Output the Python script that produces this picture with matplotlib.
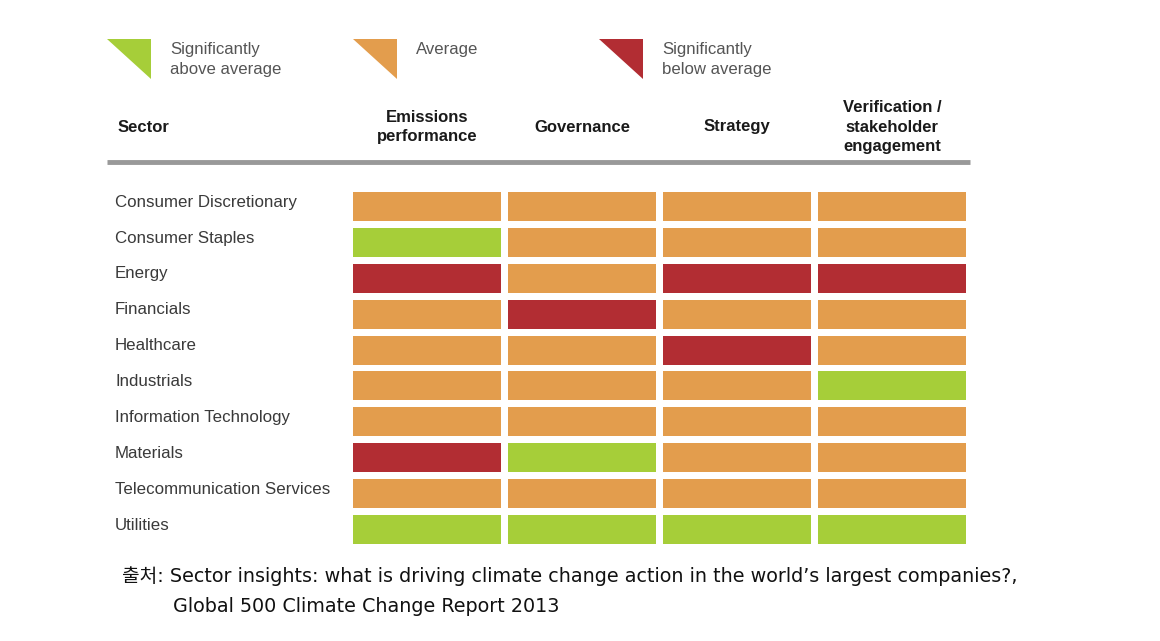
import numpy as np
import matplotlib.pyplot as plt
from matplotlib.patches import Polygon

# data
sectors = ['Consumer Discretionary', 'Consumer Staples', 'Energy', 'Financials',
           'Healthcare', 'Industrials', 'Information Technology', 'Materials',
           'Telecommunication Services', 'Utilities']
columns = ['Emissions\nperformance', 'Governance', 'Strategy',
           'Verification /\nstakeholder\nengagement']
# 1 = significantly above average, 0 = average, -1 = significantly below average
emissions    = [0, 1, -1, 0, 0, 0, 0, -1, 0, 1]
governance   = [0, 0, 0, -1, 0, 0, 0, 1, 0, 1]
strategy     = [0, 0, -1, 0, -1, 0, 0, 0, 0, 1]
verification = [0, 0, -1, 0, 0, 1, 0, 0, 0, 1]
legend_labels = ['Significantly\nabove average', 'Average', 'Significantly\nbelow average']
source_line1 = '출처: Sector insights: what is driving climate change action in the world\u2019s largest companies?,'
source_line2 = 'Global 500 Climate Change Report 2013'

colors = {1: '#a6ce39', 0: '#e39d4d', -1: '#b22d33'}
W, H = 1160, 641

fig = plt.figure(figsize=(W / 100, H / 100), dpi=100)
fig.patch.set_facecolor('white')

def fx(px):
    return px / W

def fy(py):
    return 1 - py / H

# grid of cells
cell_w = 148 / 155
cell_h = 29 / 35.9
ax = fig.add_axes([fx(353), fy(544), fx(966) - fx(353), fy(192) - fy(544)])
ax.set_xlim(0, 3 + cell_w)
ax.set_ylim(9 + cell_h, 0)
ax.axis('off')

rows = np.arange(len(sectors))
for i, vals in enumerate([emissions, governance, strategy, verification]):
    ax.barh(rows, cell_w, left=i, height=cell_h, align='edge',
            color=[colors[v] for v in vals], linewidth=0)

lab_x = (115 - 353) / 155
for j, s in enumerate(sectors):
    ax.text(lab_x, j + cell_h / 2 - 0.12, s, ha='left', va='center',
            fontsize=12.2, color='#3a3a3a', family='Liberation Sans')

# header
hdr_y = fy(127)
fig.text(fx(118), hdr_y, 'Sector', ha='left', va='center', fontsize=12,
         fontweight='bold', color='#1a1a1a', family='Liberation Sans')
for i, c in enumerate(columns):
    cx = fx(353 + 155 * i + 74)
    fig.text(cx, hdr_y, c, ha='center', va='center', fontsize=12,
             fontweight='bold', color='#1a1a1a', family='Liberation Sans',
             linespacing=1.4)

# decoration overlay in pixel coordinates
deco = fig.add_axes([0, 0, 1, 1], zorder=-1)
deco.set_xlim(0, W)
deco.set_ylim(H, 0)
deco.axis('off')
deco.plot([107, 970], [162, 162], color='#999999', lw=3.5, solid_capstyle='butt')

# legend triangles
for k, (lx, v) in enumerate(zip([107, 353, 599], [1, 0, -1])):
    tri = Polygon([[lx, 39], [lx + 44, 39], [lx + 44, 79]], closed=True,
                  facecolor=colors[v], edgecolor='none')
    deco.add_patch(tri)
    deco.text(lx + 63, 42, legend_labels[k], ha='left', va='top', fontsize=12.1,
              color='#555555', family='Liberation Sans', linespacing=1.4)

# source
fig.text(fx(122), fy(576), source_line1, ha='left', va='center', fontsize=13.8,
         color='#111111', family=['DejaVu Sans', 'Noto Sans CJK KR'])
fig.text(fx(173), fy(606), source_line2, ha='left', va='center', fontsize=13.8,
         color='#111111', family=['DejaVu Sans', 'Noto Sans CJK KR'])

fig.savefig('out.png', dpi=100, facecolor='white')
